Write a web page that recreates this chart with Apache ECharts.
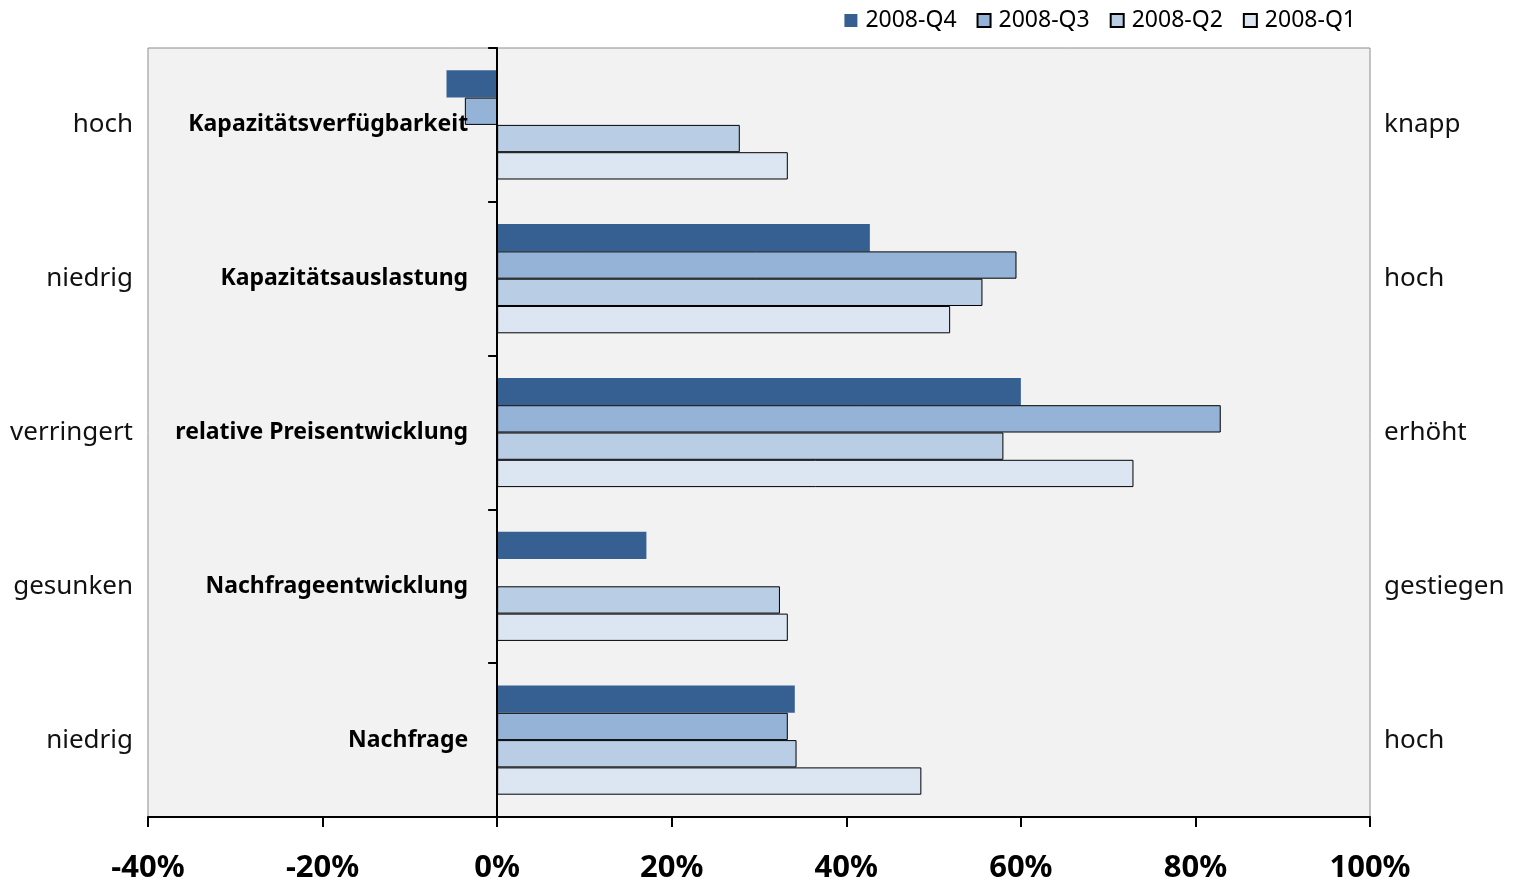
<!DOCTYPE html>
<html>
<head>
<meta charset="utf-8">
<script src="https://cdn.jsdelivr.net/npm/echarts@6/dist/echarts.min.js"></script>
<style>html,body{margin:0;padding:0;background:#fff}#c{width:1523px;height:883px}</style>
</head>
<body>
<div id="c"></div>
<script>
const categories = ['Kapazitätsverfügbarkeit','Kapazitätsauslastung','relative Preisentwicklung','Nachfrageentwicklung','Nachfrage'];
const leftLabels = ['hoch','niedrig','verringert','gesunken','niedrig'];
const rightLabels = ['knapp','hoch','erhöht','gestiegen','hoch'];
const seriesNames = ['2008-Q4','2008-Q3','2008-Q2','2008-Q1'];
const q4 = [-5.8, 42.7, 60.0, 17.1, 34.1];
const q3 = [-3.7, 59.5, 82.9, null, 33.3];
const q2 = [27.8, 55.6, 58.0, 32.4, 34.3];
const q1 = [33.3, 51.9, 72.9, 33.3, 48.6];
const xTicks = {min: -40, max: 100, interval: 20};

const FONT = 'Noto Sans';
const colors = ['#366092','#95b3d7','#b9cde5','#dce6f2'];
const values = [q4, q3, q2, q1];

const GRID_LEFT = 148, GRID_RIGHT = 153;
const chart = echarts.init(document.getElementById('c'));
const plotW = 1523 - GRID_LEFT - GRID_RIGHT;
const zeroOffset = -plotW * (0 - xTicks.min) / (xTicks.max - xTicks.min);

chart.setOption({
  animation: false,
  textStyle: {fontFamily: FONT},
  legend: {
    top: 4, right: 162,
    itemWidth: 13, itemHeight: 13, itemGap: 20,
    icon: 'rect',
    textStyle: {fontSize: 23, color: '#000', fontFamily: FONT, padding: [0,0,0,3]},
    data: seriesNames
  },
  grid: {
    left: GRID_LEFT, right: GRID_RIGHT, top: 48, bottom: 66,
    containLabel: false, outerBoundsMode: 'none',
    show: true, backgroundColor: '#f2f2f2', borderColor: '#8c8c8c', borderWidth: 1
  },
  xAxis: {
    type: 'value', min: xTicks.min, max: xTicks.max, interval: xTicks.interval,
    splitLine: {show: false},
    axisLine: {show: true, onZero: false, lineStyle: {color: '#000', width: 2}},
    axisTick: {show: true, length: 10, lineStyle: {color: '#000', width: 2}},
    axisLabel: {formatter: '{value}%', fontSize: 31, fontWeight: 'bold', color: '#000', margin: 36, fontFamily: FONT}
  },
  yAxis: [
    {
      type: 'category', data: categories, inverse: true, position: 'left', z: 5,
      axisLine: {show: true, onZero: true, lineStyle: {color: '#000', width: 2}},
      axisTick: {show: true, length: 9, lineStyle: {color: '#000', width: 2}},
      axisLabel: {show: false}
    },
    {
      type: 'category', data: categories, inverse: true, position: 'left', z: 5,
      offset: zeroOffset,
      axisLine: {show: false, onZero: false}, axisTick: {show: false},
      axisLabel: {fontSize: 23, fontWeight: 'bold', color: '#000', margin: 29, fontFamily: FONT, padding: [4,0,0,0]}
    },
    {
      type: 'category', data: categories, inverse: true, position: 'left',
      axisLine: {show: false, onZero: false}, axisTick: {show: false},
      axisLabel: {fontSize: 26, color: '#111', margin: 15, fontFamily: FONT,
        formatter: (v, i) => leftLabels[i]}
    },
    {
      type: 'category', data: categories, inverse: true, position: 'right',
      axisLine: {show: false, onZero: false}, axisTick: {show: false},
      axisLabel: {fontSize: 26, color: '#111', margin: 14, fontFamily: FONT,
        formatter: (v, i) => rightLabels[i]}
    }
  ],
  series: seriesNames.map((name, k) => ({
    name: name, type: 'bar', yAxisIndex: 0,
    data: values[k],
    barGap: '0%', barCategoryGap: '29%',
    itemStyle: k === 0 ? {color: colors[k]} : {color: colors[k], borderColor: '#000', borderWidth: 1}
  }))
});
</script>
</body>
</html>
